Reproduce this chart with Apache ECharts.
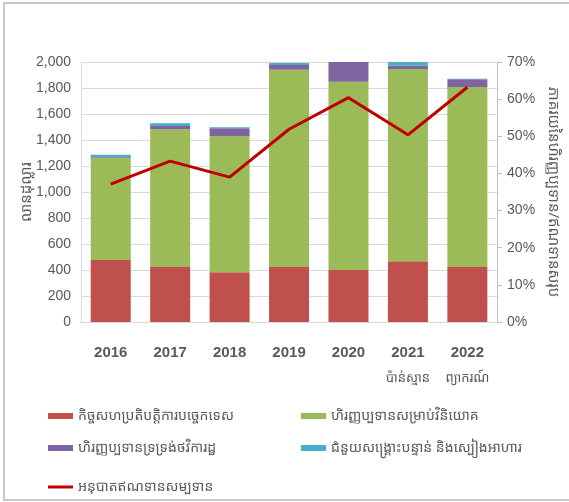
<!DOCTYPE html>
<html>
<head>
<meta charset="utf-8">
<script src="https://cdn.jsdelivr.net/npm/echarts@6/dist/echarts.min.js"></script>
<style>html,body{margin:0;padding:0;background:#fff}#c{width:569px;height:502px}</style>
</head>
<body>
<div id="c"></div>
<script>
const years = ['2016','2017','2018','2019','2020','2021','2022'];
const yearNotes = ['','','','','','ប៉ាន់ស្មាន','ព្យាករណ៍'];
const leftTicks = [0,200,400,600,800,1000,1200,1400,1600,1800,2000];
const rightTicks = [0,10,20,30,40,50,60,70];
const techCoop = [477, 423, 382, 423, 400, 467, 423];
const investFin = [785, 1059, 1049, 1518, 1448, 1479, 1385];
const budgetFin = [5, 26, 59, 36, 170, 26, 59];
const emergencyAid = [20, 20, 8, 15, 10, 30, 5];
const concRatio = [37.1, 43.3, 39.0, 51.9, 60.4, 50.4, 63.2];
const names = ['កិច្ចសហប្រតិបត្តិការបច្ចេកទេស','ហិរញ្ញប្បទានសម្រាប់វិនិយោគ','ហិរញ្ញប្បទានទ្រទ្រង់ថវិការដ្ឋ','ជំនួយសង្គ្រោះបន្ទាន់ និងស្បៀងអាហារ','អនុបាតឥណទានសម្បទាន'];
const leftName = 'លានដុល្លារ';
const rightName = 'ភាគរយនៃហិរញ្ញប្បទាន/ឥណទានសរុប';

const khFont = '"Noto Sans Khmer","Khmer OS","Noto Sans",sans-serif';
const chart = echarts.init(document.getElementById('c'));
const barBase = {type:'bar', stack:'t', barWidth:40, yAxisIndex:0};
const legText = {fontFamily:khFont, fontSize:14, color:'#595959'};
function leg(name, left, top, h){
  return {data:[{name:name, icon:'rect'}], left:left, top:top, padding:0, itemWidth:25, itemHeight:h, itemGap:4, textStyle:legText};
}
chart.setOption({
  animation:false,
  graphic:[{type:'rect', shape:{x:4,y:3,width:580,height:497}, style:{fill:'none', stroke:'#c8c8c8', lineWidth:2}, silent:true}],
  grid:{left:81, right:62, top:62, bottom:180},
  legend:[
    leg(names[0], 48, 409, 6),
    leg(names[1], 301, 409, 6),
    leg(names[2], 48, 441, 6),
    leg(names[3], 301, 441, 6),
    leg(names[4], 48, 480, 3)
  ],
  xAxis:{type:'category', data:years,
    axisLine:{lineStyle:{color:'#d9d9d9'}}, axisTick:{show:false},
    axisLabel:{interval:0, margin:19, formatter:(v,i)=> yearNotes[i] ? '{y|'+v+'}\n{n|'+yearNotes[i]+'}' : '{y|'+v+'}',
      rich:{y:{fontFamily:'"Liberation Sans Narrow","Liberation Sans",sans-serif', fontWeight:'bold', fontSize:15, color:'#595959', lineHeight:24},
            n:{fontFamily:khFont, fontSize:13, color:'#595959', lineHeight:26}}}},
  yAxis:[
    {type:'value', min:0, max:2000, interval:200,
     name:leftName, nameLocation:'middle', nameGap:47, nameMoveOverlap:false, nameTextStyle:{fontFamily:khFont, fontSize:15, color:'#595959'},
     axisLine:{show:true, lineStyle:{color:'#d9d9d9'}}, axisTick:{show:false},
     axisLabel:{margin:10, fontFamily:'"Liberation Sans",sans-serif', fontSize:14, color:'#595959',
       formatter:v=>v.toLocaleString('en-US')},
     splitLine:{lineStyle:{color:'#d9d9d9'}}},
    {type:'value', min:0, max:70, interval:10, position:'right',
     name:rightName, nameLocation:'middle', nameGap:36, nameRotate:-90, nameTextStyle:{fontFamily:khFont, fontSize:15, color:'#595959'},
     axisLine:{show:true, lineStyle:{color:'#bfbfbf'}}, axisTick:{show:true, length:5, lineStyle:{color:'#bfbfbf'}},
     axisLabel:{margin:10, fontFamily:'"Liberation Sans Narrow","Liberation Sans",sans-serif', fontSize:14, color:'#595959', formatter:'{value}%'},
     splitLine:{show:false}}
  ],
  series:[
    Object.assign({name:names[0], data:techCoop, itemStyle:{color:'#c0504d'}}, barBase),
    Object.assign({name:names[1], data:investFin, itemStyle:{color:'#9bbb59'}}, barBase),
    Object.assign({name:names[2], data:budgetFin, itemStyle:{color:'#8064a2'}}, barBase),
    Object.assign({name:names[3], data:emergencyAid, itemStyle:{color:'#4bacc6'}}, barBase),
    {name:names[4], type:'line', yAxisIndex:1, data:concRatio, symbol:'none', z:10,
     lineStyle:{color:'#c00000', width:3}, itemStyle:{color:'#c00000'}}
  ]
});
</script>
</body>
</html>
